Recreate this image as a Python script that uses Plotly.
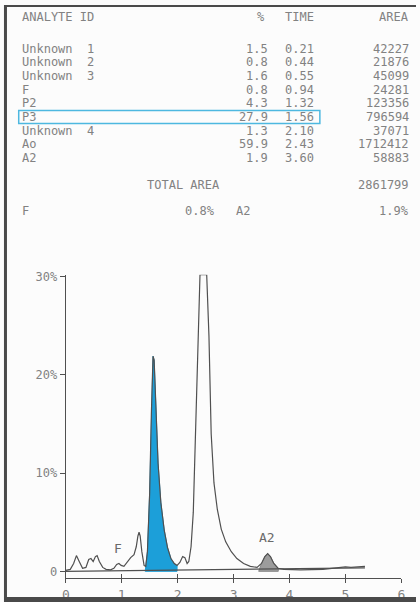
import plotly.graph_objects as go

# ---- peak report ----
analyte_ids = ["Unknown  1", "Unknown  2", "Unknown  3", "F", "P2", "P3",
               "Unknown  4", "Ao", "A2"]
percent = ["1.5", "0.8", "1.6", "0.8", "4.3", "27.9", "1.3", "59.9", "1.9"]
ret_time = ["0.21", "0.44", "0.55", "0.94", "1.32", "1.56", "2.10", "2.43", "3.60"]
area = ["42227", "21876", "45099", "24281", "123356", "796594", "37071",
        "1712412", "58883"]
total_area = "2861799"
summary = [("F", "0.8%"), ("A2", "1.9%")]
highlight_id = "P3"

# ---- chromatogram trace (minutes, % of full scale) ----
trace_time = [0.00, 0.08, 0.14, 0.19, 0.24, 0.30, 0.36, 0.41, 0.45, 0.49,
              0.53, 0.56, 0.60, 0.66, 0.72, 0.80, 0.86, 0.91, 0.95, 0.99,
              1.04, 1.10, 1.16, 1.22, 1.26, 1.29, 1.31, 1.33, 1.36, 1.40,
              1.43, 1.46, 1.50, 1.53, 1.56, 1.58, 1.61, 1.65, 1.70, 1.76,
              1.82, 1.88, 1.94, 1.99, 2.04, 2.09, 2.13, 2.17, 2.20, 2.24,
              2.28, 2.32, 2.36, 2.40, 2.52, 2.56, 2.60, 2.65, 2.71, 2.78,
              2.86, 2.96, 3.06, 3.18, 3.30, 3.42, 3.50, 3.56, 3.61, 3.66,
              3.72, 3.80, 3.90, 4.20, 4.60, 4.90, 5.00, 5.10, 5.20, 5.35]
trace_signal = [0.1, 0.2, 0.8, 1.6, 1.0, 0.3, 0.4, 1.2, 1.3, 1.0,
                1.5, 1.6, 1.0, 0.4, 0.2, 0.15, 0.3, 0.7, 0.8, 0.6,
                0.5, 1.0, 1.4, 1.7, 2.5, 3.6, 4.0, 3.6, 2.0, 0.6,
                0.5, 2.0, 8.0, 16.0, 21.9, 21.5, 17.0, 11.0, 7.0, 4.2,
                2.4, 1.3, 0.8, 0.6, 0.9, 1.5, 1.4, 0.8, 1.0, 2.5,
                6.0, 14.0, 24.0, 30.2, 30.2, 24.0, 14.0, 9.0, 6.3, 4.3,
                3.0, 2.0, 1.3, 0.8, 0.5, 0.4, 0.8, 1.5, 1.8, 1.5,
                0.8, 0.3, 0.2, 0.15, 0.2, 0.35, 0.45, 0.4, 0.45, 0.5]
baseline_time = [0.0, 5.35]
baseline_level = [0.0, 0.35]

# integration windows of the shaded peaks
p3_window = (1.42, 1.99)
a2_window = (3.45, 3.80)

x_ticks = [0, 1, 2, 3, 4, 5, 6]
y_ticks = [0, 10, 20, 30]
y_tick_text = ["0", "10%", "20%", "30%"]

W, H = 420, 602
INK = "#828282"
LINE = "#505050"
MONO = "DejaVu Sans Mono"
FS = 12


def px(x):
    return x / W


def py(y):
    return 1 - y / H


def window(lo, hi):
    xs = [t for t in trace_time if lo <= t <= hi]
    ys = [s for t, s in zip(trace_time, trace_signal) if lo <= t <= hi]
    return [lo] + xs + [hi, lo], [0] + ys + [0, 0]


fig = go.Figure()

bx, by = window(*p3_window)
fig.add_trace(go.Scatter(x=bx, y=by, fill="toself", fillcolor="#1c9fd9",
                         line=dict(color="#1c9fd9", width=1), mode="lines",
                         hoverinfo="skip"))
gx, gy = window(*a2_window)
fig.add_trace(go.Scatter(x=gx, y=gy, fill="toself", fillcolor="#9c9c9c",
                         line=dict(color="#8a8a8a", width=1), mode="lines",
                         hoverinfo="skip"))
# integration baseline, drawn on the overlay axis that carries the inner ticks
fig.add_trace(go.Scatter(x=baseline_time, y=baseline_level, mode="lines",
                         xaxis="x2", line=dict(color=LINE, width=1.2)))
fig.add_trace(go.Scatter(x=trace_time, y=trace_signal, mode="lines",
                         line=dict(color=LINE, width=1.2)))

LEFT, RIGHT = 16, 415
ann = []
ann.append(dict(x=px(LEFT), y=py(12), text="ANALYTE ID", xanchor="left"))
ann.append(dict(x=px(262), y=py(12), text="%", xanchor="center"))
ann.append(dict(x=px(318), y=py(12), text="TIME", xanchor="right"))
ann.append(dict(x=px(RIGHT), y=py(12), text="AREA", xanchor="right"))

row_y0, row_dy = 44, 13.8
for i, (name, pc, rt, ar) in enumerate(zip(analyte_ids, percent, ret_time, area)):
    yy = row_y0 + i * row_dy
    ann.append(dict(x=px(LEFT), y=py(yy), text=name, xanchor="left"))
    ann.append(dict(x=px(271), y=py(yy), text=pc, xanchor="right"))
    ann.append(dict(x=px(318), y=py(yy), text=rt, xanchor="right"))
    ann.append(dict(x=px(RIGHT), y=py(yy), text=ar, xanchor="right"))

ann.append(dict(x=px(144), y=py(182), text="TOTAL AREA", xanchor="left"))
ann.append(dict(x=px(RIGHT), y=py(182), text=total_area, xanchor="right"))
ann.append(dict(x=px(LEFT), y=py(208), text=summary[0][0], xanchor="left"))
ann.append(dict(x=px(217), y=py(208), text=summary[0][1], xanchor="right"))
ann.append(dict(x=px(234), y=py(208), text=summary[1][0], xanchor="left"))
ann.append(dict(x=px(RIGHT), y=py(208), text=summary[1][1], xanchor="right"))

for a in ann:
    a.update(xref="paper", yref="paper", yanchor="middle", showarrow=False,
             font=dict(family=MONO, size=FS, color=INK))

# peak labels above their peaks on the trace
for name in ("F", "A2"):
    k = analyte_ids.index(name)
    ann.append(dict(x=float(ret_time[k]), y=float(percent[k]), xref="x",
                    yref="y", text=name, showarrow=False, yshift=15,
                    font=dict(family=MONO, size=13, color="#6a6a6a")))

hi = analyte_ids.index(highlight_id)
hy = row_y0 + hi * row_dy
shapes = [
    dict(type="rect", xref="paper", yref="paper", x0=px(15), x1=px(322),
         y0=py(hy - 6.5), y1=py(hy + 6.5), line=dict(color="#4db8e0", width=1.5)),
    dict(type="line", xref="paper", yref="paper", x0=px(1.5), x1=px(1.5),
         y0=0, y1=1, line=dict(color="#4a4a4a", width=3)),
    dict(type="line", xref="paper", yref="paper", x0=0, x1=1,
         y0=py(1), y1=py(1), line=dict(color="#4a4a4a", width=2)),
    dict(type="line", xref="paper", yref="paper", x0=0, x1=1,
         y0=py(599.5), y1=py(599.5), line=dict(color="#4a4a4a", width=5)),
]

x_dom = [px(63), px(405)]
fig.update_layout(
    width=W, height=H, margin=dict(l=0, r=0, t=0, b=0),
    paper_bgcolor="#fcfcfc", plot_bgcolor="rgba(0,0,0,0)",
    showlegend=False, annotations=ann, shapes=shapes,
    xaxis=dict(domain=x_dom, range=[0, 6], tickvals=x_ticks,
               showgrid=False, zeroline=False, showline=True,
               linecolor=LINE, linewidth=1.2, ticks="outside", ticklen=4,
               tickcolor=LINE, tickwidth=1.2,
               tickfont=dict(family=MONO, size=13, color=INK)),
    xaxis2=dict(domain=x_dom, range=[0, 6], overlaying="x", anchor="y",
                side="bottom", tickvals=x_ticks, showticklabels=False,
                showgrid=False, zeroline=False, showline=False,
                ticks="inside", ticklen=4, tickcolor=LINE, tickwidth=1.2),
    yaxis=dict(domain=[py(578), py(272)], range=[-0.7, 30.2],
               tickvals=y_ticks, ticktext=y_tick_text, showgrid=False,
               zeroline=False, showline=True, linecolor=LINE, linewidth=1.2,
               ticks="outside", ticklen=5, tickcolor=LINE,
               tickfont=dict(family=MONO, size=12, color=INK)),
)

fig.write_html("out.html")
